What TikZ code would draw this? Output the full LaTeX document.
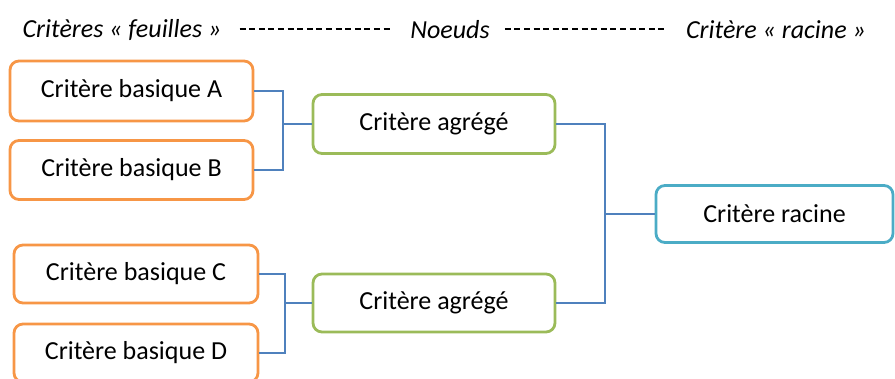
\documentclass[tikz,border=0pt]{standalone}
\usepackage{fontspec}
\setmainfont{Carlito}
\definecolor{leaf}{HTML}{F79646}
\definecolor{agg}{HTML}{9BBB59}
\definecolor{rootc}{HTML}{4BACC6}
\definecolor{link}{HTML}{4F81BD}
\begin{document}
\begin{tikzpicture}[x=1pt,y=-1pt,
  box/.style={draw, line width=2.8pt, rounded corners=9pt, fill=white,
    inner sep=0pt, font=\fontsize{26}{30}\selectfont, text=black},
  leafbox/.style={box, draw=leaf},
  aggbox/.style={box, draw=agg},
  rootbox/.style={box, draw=rootc},
  conn/.style={draw=link, line width=1.5pt},
  head/.style={font=\fontsize{26}{30}\selectfont\itshape, inner sep=0pt, anchor=center},
  dashline/.style={draw=black, line width=1.2pt, dash pattern=on 6pt off 3.6pt}]
\useasboundingbox (0,0) rectangle (895,378);
\clip (0,0) rectangle (895,378);
% header
\node[head] (h1) at (122,30) {Critères « feuilles »};
\node[head] (h2) at (450,30) {Noeuds};
\node[head] (h3) at (776,30) {Critère « racine »};
\draw[dashline] ([xshift=18pt,yshift=1pt]h1.east) -- ([xshift=-17pt,yshift=1pt]h2.west);
\draw[dashline] ([xshift=15pt,yshift=1pt]h2.east) -- ([xshift=-18pt,yshift=1pt]h3.west);
% boxes
\node[leafbox, minimum width=243pt, minimum height=60pt] (A) at (131.5,91) {Critère basique A};
\node[leafbox, minimum width=243pt, minimum height=59pt] (B) at (131.5,170) {Critère basique B};
\node[leafbox, minimum width=244pt, minimum height=58pt] (C) at (136,274) {Critère basique C};
\node[leafbox, minimum width=244pt, minimum height=58pt] (D) at (136,353) {Critère basique D};
\node[aggbox, minimum width=242pt, minimum height=59pt] (G1) at (434,124) {Critère agrégé};
\node[aggbox, minimum width=242pt, minimum height=58pt] (G2) at (434,303) {Critère agrégé};
\node[rootbox, minimum width=237pt, minimum height=57pt] (R) at (774.5,214) {Critère racine};
% junctions
\coordinate (j1) at (283,124);
\coordinate (j2) at (285,303);
\coordinate (j3) at (605,214);
% connectors
\draw[conn] (A.east) -| (j1) |- (B.east);
\draw[conn] (j1) -- (G1.west);
\draw[conn] (C.east) -| (j2) |- (D.east);
\draw[conn] (j2) -- (G2.west);
\draw[conn] (G1.east) -| (j3) |- (G2.east);
\draw[conn] (j3) -- (R.west);
\end{tikzpicture}
\end{document}
